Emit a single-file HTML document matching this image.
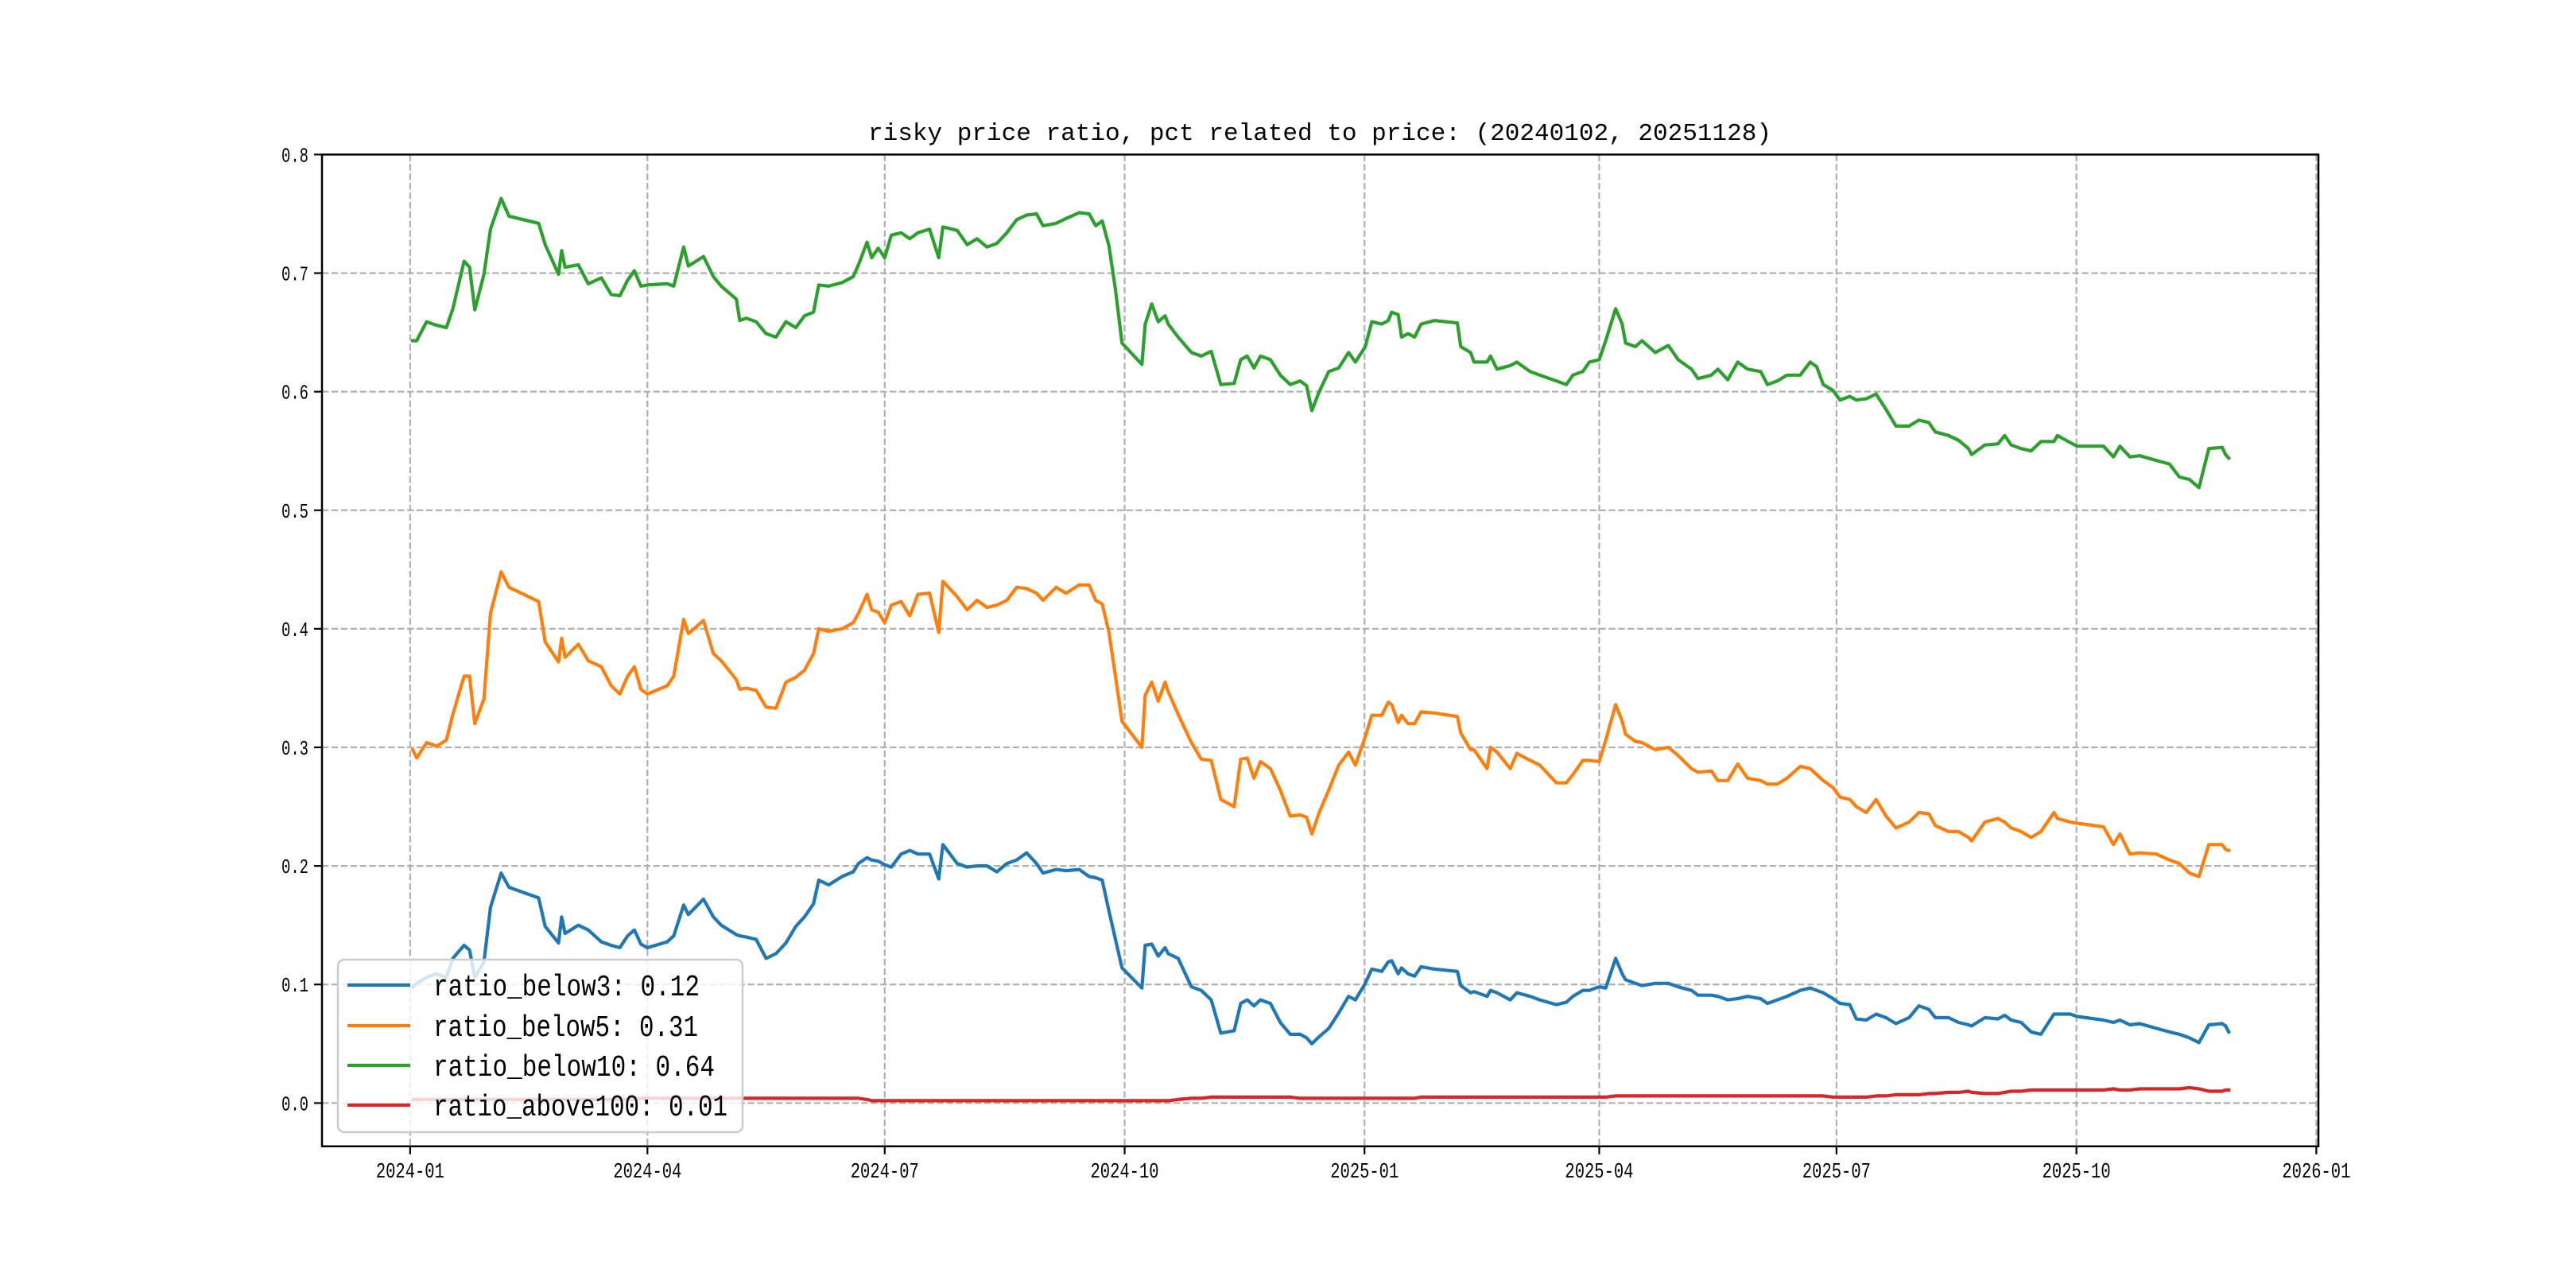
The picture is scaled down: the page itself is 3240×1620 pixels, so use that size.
<!DOCTYPE html>
<html><head><meta charset="utf-8"><style>
html,body{margin:0;padding:0;background:#fff;}
svg{display:block;}
text{font-family:"Liberation Mono","Noto Sans CJK SC",monospace;fill:#000;}
</style></head>
<body>
<svg id="chart" width="3240" height="1620" viewBox="0 0 3240 1620" xmlns="http://www.w3.org/2000/svg">
<rect width="3240" height="1620" fill="#fff"/>
<text x="1660" y="176" font-size="31" text-anchor="middle" textLength="1136" lengthAdjust="spacingAndGlyphs">risky price ratio, pct related to price: (20240102, 20251128)</text>
<g id="grid"></g>
<g id="series"></g>
<g id="axes"></g>
<g id="legend"></g>
</svg>
<script>
// Days since 2024-01-01 (shared by all series)
const dayOffsets = [1,2.5,6.3,10.1,13.9,16.4,20.7,22.8,24.8,28.3,30.8,34.9,37.9,49.3,51.8,56.9,58.1,59.4,64.5,68.3,73.3,77.1,80.4,83.4,86,88.5,91,98.6,101.1,104.9,106.7,112.5,116.3,119.3,125.1,126.4,128.9,132.7,136.5,140.3,144.1,147.9,151.2,154.7,156.7,160.5,165.6,169.9,171.9,175.2,177,179.5,182,184.5,188.3,191.6,194.7,199.2,202.7,204.3,209.8,213.6,217.4,221.2,225,228.8,232.6,236.4,240.2,242.7,247.7,251.5,256.6,260.4,262.9,265.4,268,270.5,273,280.6,281.9,284.4,286.9,289.5,290.7,294.5,299.6,303.4,307.2,310.9,316,318.5,321,323.6,326.1,329.9,333.7,337.5,341.3,343.8,345.8,
348.6,352.3,356.1,359.9,362.5,366.3,368.8,372.6,375.1,376.4,378.9,380.2,382.7,385.2,387.7,392.8,401.6,402.9,406.7,408,413,414.3,416.8,421.9,424.4,429.5,433.2,439.6,443.4,445.9,449.7,452.2,456,458.5,462.3,464.8,466.1,469.9,472.4,477.5,482.5,486.3,491.4,493.9,499,501.5,505.3,509.1,512.9,517.9,520.5,524.3,528,533.1,536.9,539.4,541.9,545.7,548.3,552.1,554.6,558.4,562.2,566,569.8,574.8,578.6,582.4,584.9,590,593.8,597.6,598.8,603.9,608.9,611.5,614,617.8,621.6,625.4,630.4,631.7,636.7,639.3,649.4,653.2,655.7,659.5,663.3,669.6,674.7,678.5,682.3,686,689.8,694.9,696.2,697.4];

const below3 = [.098,.101,.106,.109,.106,.122,.133,.129,.106,.119,.165,.194,.182,.173,.149,.135,.157,.143,.150,.146,.136,.133,.131,.141,.146,.134,.131,.136,.141,.167,.159,.172,.157,.150,.142,.141,.140,.138,.122,.126,.135,.149,.157,.168,.188,.184,.191,.195,.202,.207,.205,.204,.201,.199,.210,.213,.210,.210,.189,.218,.202,.199,.200,.200,.195,.202,.205,.211,.202,.194,.197,.196,.197,.191,.190,.188,.162,.138,.114,.097,.133,.134,.124,.131,.126,.122,.098,.095,.087,.059,.061,.084,.087,.082,.087,.084,.068,.058,.058,.055,.050,
.056,.063,.076,.090,.087,.101,.113,.111,.119,.120,.109,.114,.109,.107,.115,.113,.111,.099,.093,.094,.090,.095,.093,.087,.093,.090,.087,.083,.085,.090,.095,.095,.098,.097,.122,.109,.104,.101,.099,.101,.101,.098,.095,.091,.091,.090,.087,.088,.090,.088,.084,.087,.090,.095,.097,.095,.093,.088,.084,.083,.071,.070,.075,.072,.067,.072,.082,.079,.072,.072,.068,.066,.065,.072,.071,.074,.070,.068,.060,.058,.075,.075,.075,.073,.070,.068,.070,.066,.067,.063,.060,.058,.055,.051,.066,.067,.065,.060];

const below5 = [.298,.291,.304,.301,.306,.328,.360,.360,.320,.341,.413,.448,.435,.423,.389,.372,.392,.376,.387,.373,.368,.352,.345,.360,.368,.349,.345,.352,.360,.408,.396,.407,.379,.373,.357,.349,.350,.348,.334,.333,.355,.359,.365,.379,.400,.398,.400,.405,.413,.429,.416,.414,.405,.420,.423,.411,.429,.430,.397,.440,.427,.416,.424,.418,.420,.424,.435,.434,.430,.424,.435,.430,.437,.437,.424,.421,.397,.360,.322,.300,.344,.355,.339,.355,.347,.328,.304,.290,.289,.256,.250,.290,.291,.274,.288,.282,.264,.242,.243,.241,.227,
.245,.264,.285,.296,.285,.309,.327,.327,.338,.336,.321,.327,.320,.320,.330,.329,.326,.312,.298,.298,.282,.300,.296,.282,.295,.289,.285,.270,.270,.277,.289,.289,.288,.306,.336,.322,.311,.305,.304,.298,.300,.293,.282,.279,.280,.272,.272,.286,.274,.272,.269,.269,.274,.284,.282,.277,.272,.266,.258,.256,.250,.245,.256,.242,.232,.237,.245,.244,.234,.229,.229,.224,.221,.237,.240,.237,.232,.229,.224,.229,.245,.240,.237,.236,.233,.218,.227,.210,.211,.210,.205,.202,.194,.191,.218,.218,.214,.213];

const below10 = [.643,.643,.659,.656,.654,.670,.710,.705,.669,.699,.737,.763,.748,.742,.724,.699,.719,.705,.707,.691,.696,.682,.681,.694,.702,.689,.690,.691,.689,.722,.706,.714,.697,.689,.678,.660,.662,.659,.649,.646,.659,.654,.664,.667,.690,.689,.692,.697,.707,.726,.713,.721,.713,.732,.734,.729,.734,.737,.713,.739,.736,.724,.729,.722,.725,.734,.745,.749,.750,.740,.742,.746,.751,.750,.740,.744,.723,.686,.641,.623,.657,.674,.659,.664,.657,.646,.633,.630,.634,.606,.607,.627,.630,.620,.630,.627,.614,.606,.609,.605,.584,
.600,.617,.620,.633,.625,.638,.659,.657,.660,.667,.665,.646,.649,.646,.657,.660,.658,.638,.633,.625,.625,.630,.619,.622,.625,.617,.614,.609,.606,.614,.617,.625,.627,.643,.670,.657,.641,.638,.643,.633,.639,.627,.619,.611,.614,.619,.610,.625,.619,.617,.606,.609,.614,.614,.625,.621,.606,.601,.593,.596,.593,.594,.598,.585,.571,.571,.576,.574,.566,.563,.559,.552,.547,.555,.556,.563,.555,.552,.550,.558,.558,.563,.557,.554,.554,.545,.554,.545,.546,.542,.539,.528,.526,.519,.552,.553,.547,.544];

const above100 = [.003,.003,.003,.003,.003,.003,.003,.003,.003,.003,.003,.003,.003,.003,.003,.003,.003,.003,.003,.003,.003,.003,.003,.003,.003,.004,.004,.004,.004,.004,.004,.004,.004,.004,.004,.004,.004,.004,.004,.004,.004,.004,.004,.004,.004,.004,.004,.004,.004,.003,.002,.002,.002,.002,.002,.002,.002,.002,.002,.002,.002,.002,.002,.002,.002,.002,.002,.002,.002,.002,.002,.002,.002,.002,.002,.002,.002,.002,.002,.002,.002,.002,.002,.002,.002,.003,.004,.004,.005,.005,.005,.005,.005,.005,.005,.005,.005,.005,.004,.004,.004,
.004,.004,.004,.004,.004,.004,.004,.004,.004,.004,.004,.004,.004,.004,.005,.005,.005,.005,.005,.005,.005,.005,.005,.005,.005,.005,.005,.005,.005,.005,.005,.005,.005,.005,.006,.006,.006,.006,.006,.006,.006,.006,.006,.006,.006,.006,.006,.006,.006,.006,.006,.006,.006,.006,.006,.006,.006,.005,.005,.005,.005,.005,.006,.006,.007,.007,.007,.008,.008,.009,.009,.010,.009,.008,.008,.009,.010,.010,.011,.011,.011,.011,.011,.011,.011,.012,.011,.011,.012,.012,.012,.012,.013,.012,.010,.010,.011,.011];

const seriesNames = ["ratio_below3","ratio_below5","ratio_below10","ratio_above100"];
const legendValues = ["0.12","0.31","0.64","0.01"];
const yTicks = [0.0,0.1,0.2,0.3,0.4,0.5,0.6,0.7,0.8];
const yTickLabels = ["0.0","0.1","0.2","0.3","0.4","0.5","0.6","0.7","0.8"];
const xTickDays = [0,91,182,274,366,456,547,639,731];
const xTickLabels = ["2024-01","2024-04","2024-07","2024-10","2025-01","2025-04","2025-07","2025-10","2026-01"];

const NS="http://www.w3.org/2000/svg";
const L=405,R=2916,T=194.4,B=1441.8;
const xMin=-33.8,xMax=731.8,yMin=-0.0365,yMax=0.8;
function xs(d){return L+(d-xMin)/(xMax-xMin)*(R-L);}
function ys(v){return B-(v-yMin)/(yMax-yMin)*(B-T);}
function mk(tag,attrs,parent){const e=document.createElementNS(NS,tag);for(const k in attrs)e.setAttribute(k,attrs[k]);parent.appendChild(e);return e;}

const grid=document.getElementById('grid');
const axes=document.getElementById('axes');
const sg=document.getElementById('series');
const lg=document.getElementById('legend');
const colors=["#1f77b4","#ff7f0e","#2ca02c","#d62728"];

yTicks.forEach((v,i)=>{
  const y=ys(v);
  const g=mk('line',{x1:L,x2:R,y1:y,y2:y,stroke:'#b0b0b0','stroke-width':2.2,'stroke-dasharray':'8.3,3.6'},grid);
  
  
  const t=mk('line',{x1:L-10,x2:L,y1:y,y2:y,stroke:'#000','stroke-width':2.2},axes);
  
  
  const lb=mk('text',{x:L-17,y:y+9,'font-size':26,'text-anchor':'end',textLength:34,lengthAdjust:'spacingAndGlyphs'},axes);
  lb.textContent=yTickLabels[i];
  
  
});
xTickDays.forEach((d,i)=>{
  const x=xs(d);
  const g=mk('line',{x1:x,x2:x,y1:T,y2:B,stroke:'#b0b0b0','stroke-width':2.2,'stroke-dasharray':'8.3,3.6'},grid);
  
  
  const t=mk('line',{x1:x,x2:x,y1:B,y2:B+10,stroke:'#000','stroke-width':2.2},axes);
  
  
  const lb=mk('text',{x:x,y:1481,'font-size':27,'text-anchor':'middle',textLength:86,lengthAdjust:'spacingAndGlyphs'},axes);
  lb.textContent=xTickLabels[i];
  
  
});
const frame=mk('rect',{x:L,y:T,width:R-L,height:B-T,fill:'none',stroke:'#000','stroke-width':2.5},axes);



[below3,below5,below10,above100].forEach((vals,si)=>{
  const pts=dayOffsets.map((d,i)=>xs(d).toFixed(1)+','+ys(vals[i]).toFixed(1)).join(' ');
  const p=mk('polyline',{points:pts,fill:'none',stroke:colors[si],'stroke-width':4.2,'stroke-linejoin':'round','stroke-linecap':'square'},sg);
  
  
});

const box=mk('rect',{x:425,y:1207,width:509,height:217,rx:8,fill:'#fff','fill-opacity':0.8,stroke:'#cccccc','stroke-width':2.5},lg);


const rowY=[1239,1290,1340,1390];
const textW=[335,333,354,370];
seriesNames.forEach((n,i)=>{
  const ln=mk('line',{x1:437,x2:516,y1:rowY[i],y2:rowY[i],stroke:colors[i],'stroke-width':4.2},lg);
  
  
  const t=mk('text',{x:545,y:rowY[i]+13,'font-size':38,textLength:textW[i],lengthAdjust:'spacingAndGlyphs'},lg);
  t.textContent=n+': '+legendValues[i];
  
  
});
</script>
</body></html>
